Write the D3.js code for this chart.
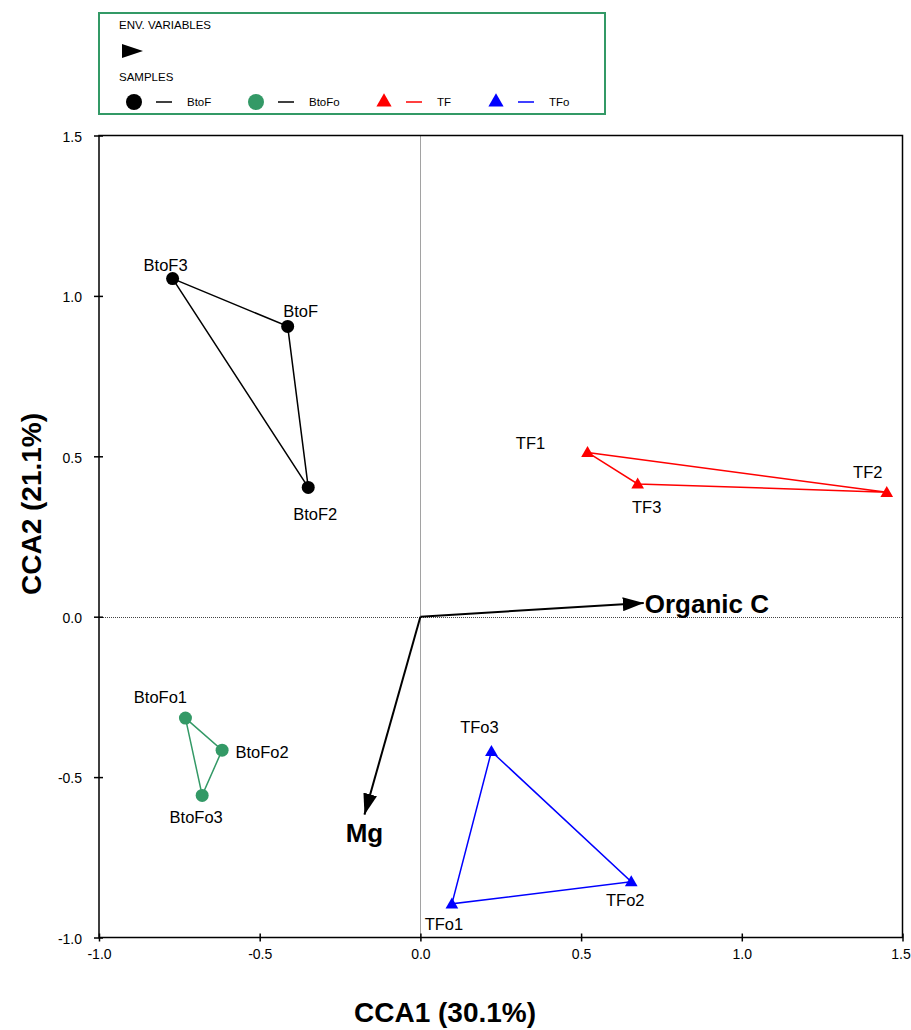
<!DOCTYPE html>
<html>
<head>
<meta charset="utf-8">
<script src="https://cdn.jsdelivr.net/npm/d3@7"></script>
<style>
  body { margin: 0; background: #fff; }
  svg { display: block; font-family: "Liberation Sans", Arial, sans-serif; }
</style>
</head>
<body>
<svg id="chart" width="911" height="1030"></svg>
<script>
// CCA ordination: sample scores per group and environmental vectors
const groups = ["BtoF", "BtoFo", "TF", "TFo"];
const groupColors = ["#000000", "#339966", "#ff0000", "#0000ff"];
const groupShapes = ["circle", "circle", "triangle", "triangle"];
const groupLineColors = ["#000000", "#000000", "#ff0000", "#0000ff"];

const sampleNames = ["BtoF3", "BtoF", "BtoF2", "BtoFo1", "BtoFo2", "BtoFo3", "TF1", "TF3", "TF2", "TFo3", "TFo2", "TFo1"];
const sampleGroup = ["BtoF", "BtoF", "BtoF", "BtoFo", "BtoFo", "BtoFo", "TF", "TF", "TF", "TFo", "TFo", "TFo"];
const sampleX = [-0.771, -0.413, -0.349, -0.731, -0.617, -0.679, 0.520, 0.676, 1.451, 0.221, 0.656, 0.098];
const sampleY = [1.054, 0.905, 0.403, -0.316, -0.416, -0.557, 0.512, 0.414, 0.388, -0.420, -0.826, -0.895];
// label offsets in px from each point (dx, dy to text center)
const labelDX = [-7, 13, 7, -25, 40, -6, -57, 9, -19, -12, -6, -8];
const labelDY = [-14, -15, 27, -21, 2, 22, -9, 23, -20, -24, 18, 20];

const envNames = ["Organic C", "Mg"];
const envX = [0.695, -0.174];
const envY = [0.043, -0.617];

const xTicks = [-1.0, -0.5, 0.0, 0.5, 1.0, 1.5];
const yTicks = [-1.0, -0.5, 0.0, 0.5, 1.0, 1.5];

const svg = d3.select("#chart");
const x = d3.scaleLinear().domain([-1.0, 1.5]).range([99, 902.5]);
const y = d3.scaleLinear().domain([-1.0, 1.5]).range([937.5, 135.5]);

// zero reference lines
svg.append("line").attr("x1", Math.round(x(0)) + 0.5).attr("x2", Math.round(x(0)) + 0.5)
  .attr("y1", y(1.5)).attr("y2", y(-1.0))
  .attr("stroke", "#444").attr("stroke-width", 1).attr("stroke-dasharray", "1,1");
svg.append("line").attr("x1", x(-1.0)).attr("x2", x(1.5))
  .attr("y1", Math.round(y(0)) + 0.5).attr("y2", Math.round(y(0)) + 0.5)
  .attr("stroke", "#444").attr("stroke-width", 1).attr("stroke-dasharray", "1,1");

// frame
svg.append("rect").attr("x", x(-1.0)).attr("y", y(1.5))
  .attr("width", x(1.5) - x(-1.0)).attr("height", y(-1.0) - y(1.5))
  .attr("fill", "none").attr("stroke", "#000").attr("stroke-width", 1.5);

// axes with ticks crossing the frame; plain hyphen for negatives
const fmt = v => d3.format(".1f")(v).replace("\u2212", "-");
const xAxis = svg.append("g").attr("transform", `translate(0,${y(-1.0)})`)
  .call(d3.axisBottom(x).tickValues(xTicks).tickFormat(fmt).tickSizeInner(4).tickSizeOuter(0).tickPadding(8));
xAxis.selectAll(".tick line").attr("y1", -4).attr("stroke-width", 1.5);
const yAxis = svg.append("g").attr("transform", `translate(${x(-1.0)},0)`)
  .call(d3.axisLeft(y).tickValues(yTicks).tickFormat(fmt).tickSizeInner(5).tickSizeOuter(0).tickPadding(12));
yAxis.selectAll(".tick line").attr("x1", 4).attr("stroke-width", 1.5);
[xAxis, yAxis].forEach(a => {
  a.select(".domain").remove();
  a.attr("font-size", 14).attr("font-family", "'Liberation Sans', Arial, sans-serif");
  a.selectAll(".tick text").attr("fill", "#000");
});
yAxis.selectAll(".tick text").attr("dy", "0.42em");
// keep the last x label inside the page edge
xAxis.selectAll(".tick text").filter(d => d === 1.5).attr("dx", -2);

// axis titles
svg.append("text").attr("x", 445).attr("y", 1022).attr("text-anchor", "middle")
  .attr("font-size", 28).attr("font-weight", "bold").text("CCA1 (30.1%)");
svg.append("text").attr("transform", "translate(41,504) rotate(-90)").attr("text-anchor", "middle")
  .attr("font-size", 28).attr("font-weight", "bold").text("CCA2 (21.1%)");

// arrow head marker
const defs = svg.append("defs");
defs.append("marker").attr("id", "arrowHead").attr("viewBox", "0 0 21 14")
  .attr("refX", 21).attr("refY", 7).attr("markerWidth", 21).attr("markerHeight", 14)
  .attr("markerUnits", "userSpaceOnUse").attr("orient", "auto")
  .append("path").attr("d", "M0,0 L21,7 L0,14 Z").attr("fill", "#000");

// polygon hulls connecting samples within each group
groups.forEach((g, gi) => {
  const idx = sampleGroup.map((s, i) => s === g ? i : -1).filter(i => i >= 0);
  const pts = idx.map(i => [x(sampleX[i]), y(sampleY[i])]);
  svg.append("path").attr("d", d3.line()(pts) + "Z")
    .attr("fill", "none").attr("stroke", groupColors[gi])
    .attr("stroke-width", 1.5);
});

// environmental arrows
envNames.forEach((n, i) => {
  svg.append("line").attr("x1", x(0)).attr("y1", y(0)).attr("x2", x(envX[i])).attr("y2", y(envY[i]))
    .attr("stroke", "#000").attr("stroke-width", 2).attr("marker-end", "url(#arrowHead)");
});
svg.append("text").attr("x", x(envX[0]) + 1).attr("y", y(envY[0]) + 10)
  .attr("font-size", 26).attr("font-weight", "bold").text(envNames[0]);
svg.append("text").attr("x", x(envX[1])).attr("y", y(envY[1]) + 27).attr("text-anchor", "middle")
  .attr("font-size", 26).attr("font-weight", "bold").text(envNames[1]);

// sample markers
const triSym = d3.symbol().type(d3.symbolTriangle).size(70);
sampleNames.forEach((n, i) => {
  const gi = groups.indexOf(sampleGroup[i]);
  const cx = x(sampleX[i]), cy = y(sampleY[i]);
  if (groupShapes[gi] === "circle") {
    svg.append("circle").attr("cx", cx).attr("cy", cy).attr("r", 6.5).attr("fill", groupColors[gi]);
  } else {
    svg.append("path").attr("d", triSym()).attr("transform", `translate(${cx},${cy + 1})`)
      .attr("fill", groupColors[gi]);
  }
  svg.append("text").attr("x", cx + labelDX[i]).attr("y", cy + labelDY[i])
    .attr("text-anchor", "middle").attr("dominant-baseline", "central")
    .attr("font-size", 16.5).text(n);
});

// legend
const lg = svg.append("g");
lg.append("rect").attr("x", 99).attr("y", 13).attr("width", 506).attr("height", 101)
  .attr("fill", "#fff").attr("stroke", "#339966").attr("stroke-width", 2);
lg.append("text").attr("x", 119).attr("y", 29).attr("font-size", 11.5).text("ENV. VARIABLES");
lg.append("path").attr("d", "M122,44 L143,51 L122,58 Z").attr("fill", "#000");
lg.append("text").attr("x", 119).attr("y", 80.5).attr("font-size", 11.5).text("SAMPLES");
const legendX = [134, 256, 384, 496];
groups.forEach((g, gi) => {
  const lx = legendX[gi], ly = 102;
  if (groupShapes[gi] === "circle") {
    lg.append("circle").attr("cx", lx).attr("cy", ly).attr("r", 8).attr("fill", groupColors[gi]);
  } else {
    lg.append("path").attr("d", d3.symbol().type(d3.symbolTriangle).size(100)()).attr("transform", `translate(${lx},${ly})`)
      .attr("fill", groupColors[gi]);
  }
  lg.append("line").attr("x1", lx + 22).attr("x2", lx + 38).attr("y1", ly).attr("y2", ly)
    .attr("stroke", groupLineColors[gi]).attr("stroke-width", 1.5);
  lg.append("text").attr("x", lx + 53).attr("y", ly + 4).attr("font-size", 11.5).text(g);
});
</script>
</body>
</html>
